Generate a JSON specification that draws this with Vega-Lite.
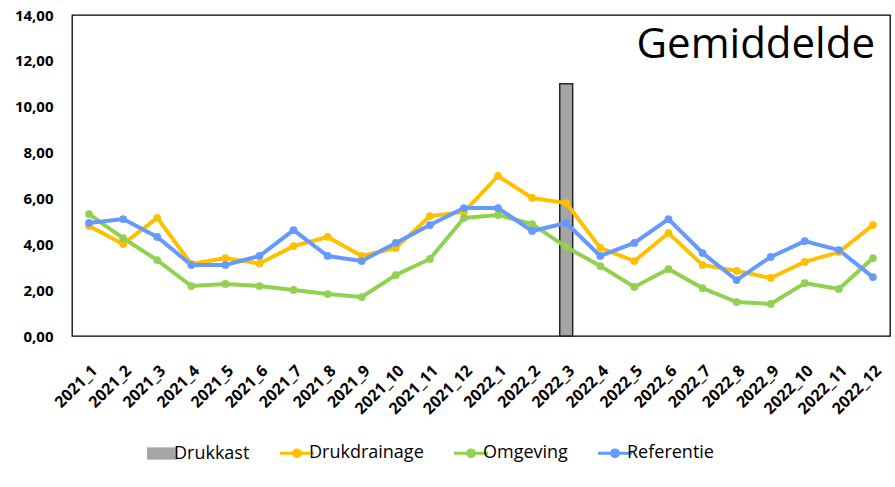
{
  "$schema": "https://vega.github.io/schema/vega-lite/v6.json",
  "width": 818,
  "height": 321,
  "autosize": {"type": "none"},
  "padding": {"left": 72, "top": 15, "right": 5, "bottom": 151},
  "background": "white",
  "config": {
    "locale": {"number": {"decimal": ",", "thousands": ".", "grouping": [3], "currency": ["€", ""]}},
    "view": {"stroke": "#000000", "strokeWidth": 1.3},
    "font": "Open Sans"
  },
  "title": {
    "text": "Gemiddelde",
    "anchor": "end",
    "orient": "top",
    "frame": "group",
    "font": "Open Sans",
    "fontSize": 42,
    "fontWeight": "normal",
    "color": "#000000",
    "offset": -59,
    "dx": -15
  },
  "data": {
    "values": [
      {"maand": "2021_1", "Drukdrainage": 4.80, "Omgeving": 5.32, "Referentie": 4.93},
      {"maand": "2021_2", "Drukdrainage": 4.01, "Omgeving": 4.27, "Referentie": 5.10},
      {"maand": "2021_3", "Drukdrainage": 5.15, "Omgeving": 3.31, "Referentie": 4.32},
      {"maand": "2021_4", "Drukdrainage": 3.14, "Omgeving": 2.18, "Referentie": 3.10},
      {"maand": "2021_5", "Drukdrainage": 3.40, "Omgeving": 2.27, "Referentie": 3.10},
      {"maand": "2021_6", "Drukdrainage": 3.16, "Omgeving": 2.18, "Referentie": 3.49},
      {"maand": "2021_7", "Drukdrainage": 3.92, "Omgeving": 2.01, "Referentie": 4.62},
      {"maand": "2021_8", "Drukdrainage": 4.32, "Omgeving": 1.83, "Referentie": 3.49},
      {"maand": "2021_9", "Drukdrainage": 3.49, "Omgeving": 1.70, "Referentie": 3.27},
      {"maand": "2021_10", "Drukdrainage": 3.84, "Omgeving": 2.66, "Referentie": 4.06},
      {"maand": "2021_11", "Drukdrainage": 5.23, "Omgeving": 3.36, "Referentie": 4.84},
      {"maand": "2021_12", "Drukdrainage": 5.41, "Omgeving": 5.15, "Referentie": 5.58},
      {"maand": "2022_1", "Drukdrainage": 6.98, "Omgeving": 5.28, "Referentie": 5.58},
      {"maand": "2022_2", "Drukdrainage": 6.02, "Omgeving": 4.88, "Referentie": 4.58},
      {"maand": "2022_3", "Drukkast": 11.0, "Drukdrainage": 5.80, "Omgeving": 3.88, "Referentie": 4.93},
      {"maand": "2022_4", "Drukdrainage": 3.84, "Omgeving": 3.05, "Referentie": 3.49},
      {"maand": "2022_5", "Drukdrainage": 3.27, "Omgeving": 2.14, "Referentie": 4.06},
      {"maand": "2022_6", "Drukdrainage": 4.49, "Omgeving": 2.92, "Referentie": 5.10},
      {"maand": "2022_7", "Drukdrainage": 3.10, "Omgeving": 2.09, "Referentie": 3.62},
      {"maand": "2022_8", "Drukdrainage": 2.84, "Omgeving": 1.48, "Referentie": 2.44},
      {"maand": "2022_9", "Drukdrainage": 2.53, "Omgeving": 1.40, "Referentie": 3.45},
      {"maand": "2022_10", "Drukdrainage": 3.23, "Omgeving": 2.31, "Referentie": 4.14},
      {"maand": "2022_11", "Drukdrainage": 3.66, "Omgeving": 2.05, "Referentie": 3.75},
      {"maand": "2022_12", "Drukdrainage": 4.84, "Omgeving": 3.40, "Referentie": 2.57}
    ]
  },
  "transform": [
    {"fold": ["Drukkast", "Drukdrainage", "Omgeving", "Referentie"], "as": ["serie", "waarde"]},
    {"filter": "isValid(datum.waarde)"}
  ],
  "encoding": {
    "x": {
      "field": "maand",
      "type": "nominal",
      "scale": {
        "type": "band",
        "paddingInner": 0,
        "paddingOuter": 0,
        "domain": ["2021_1","2021_2","2021_3","2021_4","2021_5","2021_6","2021_7","2021_8","2021_9","2021_10","2021_11","2021_12","2022_1","2022_2","2022_3","2022_4","2022_5","2022_6","2022_7","2022_8","2022_9","2022_10","2022_11","2022_12"]
      },
      "axis": {
        "title": null,
        "labelAngle": -45,
        "labelFont": "Open Sans",
        "labelFontWeight": "bold",
        "labelFontSize": 16,
        "labelColor": "#000000",
        "ticks": false,
        "domain": false,
        "grid": false,
        "labelPadding": 26
      }
    },
    "y": {
      "field": "waarde",
      "type": "quantitative",
      "scale": {"domain": [0, 14], "nice": false},
      "axis": {
        "title": null,
        "values": [0, 2, 4, 6, 8, 10, 12, 14],
        "format": ".2f",
        "labelFont": "Open Sans",
        "labelFontWeight": "bold",
        "labelFontSize": 15,
        "labelColor": "#000000",
        "ticks": false,
        "domain": false,
        "grid": false,
        "labelPadding": 19
      }
    },
    "color": {
      "field": "serie",
      "type": "nominal",
      "scale": {
        "domain": ["Drukkast", "Drukdrainage", "Omgeving", "Referentie"],
        "range": ["#A5A5A5", "#FFC000", "#92D050", "#6699FF"]
      },
      "legend": {
        "title": null,
        "orient": "none",
        "direction": "horizontal",
        "legendX": 81,
        "legendY": 429,
        "padding": 0,
        "labelFont": "Open Sans",
        "labelFontSize": 18,
        "labelColor": "#000000",
        "labelOffset": 3,
        "columnPadding": 24,
        "symbolSize": 1156,
        "encode": {
          "symbols": {
            "update": {
              "shape": {"signal": "datum.value === 'Drukkast' ? 'M-0.88,-0.36H0.88V0.36H-0.88Z' : 'M-1,0H1M-0.2,0A0.2,0.2 0 1,0 0.2,0A0.2,0.2 0 1,0 -0.2,0Z'"},
              "size": {"value": 1156},
              "fill": {"scale": "color", "field": "value"},
              "stroke": {"scale": "color", "field": "value"},
              "strokeWidth": {"signal": "datum.value === 'Drukkast' ? 0 : 3"},
              "opacity": {"value": 1},
              "fillOpacity": {"value": 1}
            }
          }
        }
      }
    }
  },
  "layer": [
    {
      "transform": [{"filter": "datum.serie === 'Drukkast'"}],
      "mark": {"type": "bar", "width": {"band": 0.38}, "stroke": "#262626", "strokeWidth": 1.5, "opacity": 1}
    },
    {
      "transform": [{"filter": "datum.serie !== 'Drukkast'"}],
      "mark": {"type": "line", "strokeWidth": 4, "point": {"filled": true, "size": 60, "opacity": 1}}
    }
  ]
}
